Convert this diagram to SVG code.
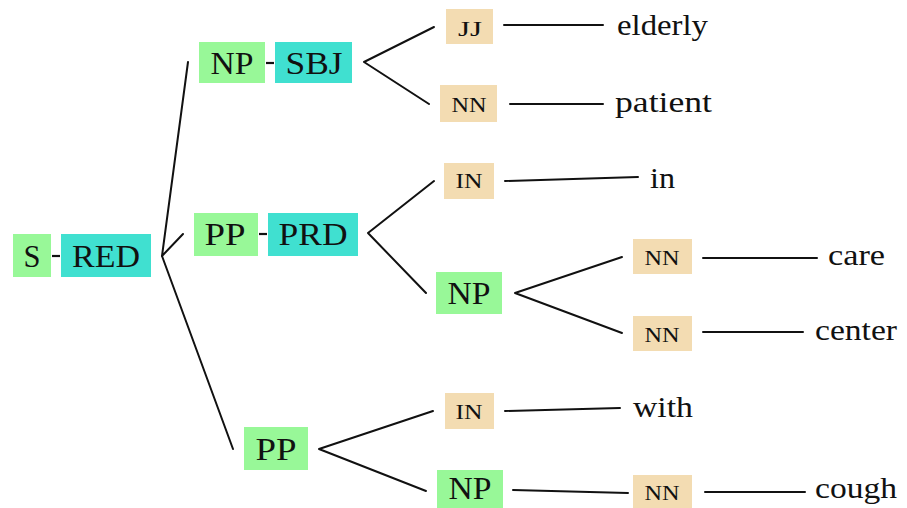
<svg xmlns="http://www.w3.org/2000/svg" width="907" height="508" viewBox="0 0 907 508">
  <style>
    .phr { fill: #98f898; }
    .fn { fill: #40e0d0; }
    .pos { fill: #f3dcb2; }
    text { font-family: 'Liberation Serif', 'Times New Roman', serif; fill: #111; }
    .big { font-size: 31px; text-anchor: middle; }
    .small { font-size: 20px; text-anchor: middle; }
    .word { font-size: 30px; }
    .edge { stroke: #111; stroke-width: 2; fill: none; stroke-linecap: round; stroke-linejoin: round; }
    .dash { stroke: #111; stroke-width: 2.2; }
  </style>

  <!-- tree edges -->
  <g id="connectors">
    <polyline class="edge" points="188,62 162,256 183,234"/>
    <line class="edge" x1="162" y1="256" x2="233" y2="449"/>
    <polyline class="edge" points="434,27 364,62 429,104"/>
    <polyline class="edge" points="434,181 368,233 426,293"/>
    <polyline class="edge" points="622,257 515,293 622,333"/>
    <polyline class="edge" points="433,411 319,449 426,491"/>
    <line class="edge" x1="504" y1="25" x2="603" y2="25"/>
    <line class="edge" x1="510" y1="104" x2="603" y2="104"/>
    <line class="edge" x1="505" y1="181" x2="638" y2="177"/>
    <line class="edge" x1="703" y1="258" x2="817" y2="258"/>
    <line class="edge" x1="703" y1="332" x2="803" y2="332"/>
    <line class="edge" x1="505" y1="411" x2="620" y2="408"/>
    <line class="edge" x1="513" y1="490" x2="628" y2="493"/>
    <line class="edge" x1="705" y1="492" x2="805" y2="492"/>
  </g>

  <!-- root: S-RED -->
  <g id="s-red">
    <rect class="phr" x="13" y="234" width="38" height="43"/>
    <text class="big" x="32" y="267" font-family="Liberation Serif" textLength="17" lengthAdjust="spacingAndGlyphs">S</text>
    <line class="dash" x1="52" y1="256" x2="60" y2="256"/>
    <rect class="fn" x="61" y="234" width="90" height="43"/>
    <text class="big" x="106" y="267" font-family="Liberation Serif" textLength="68" lengthAdjust="spacingAndGlyphs">RED</text>
  </g>

  <!-- subject NP -->
  <g id="np-sbj">
    <rect class="phr" x="199" y="42" width="66" height="41"/>
    <text class="big" x="232" y="74" textLength="43" lengthAdjust="spacingAndGlyphs">NP</text>
    <line class="dash" x1="266" y1="63" x2="274" y2="63"/>
    <rect class="fn" x="275" y="42" width="77" height="41"/>
    <text class="big" x="314" y="74" textLength="57" lengthAdjust="spacingAndGlyphs">SBJ</text>
  </g>

  <!-- predicate PP -->
  <g id="pp-prd">
    <rect class="phr" x="194" y="213" width="64" height="43"/>
    <text class="big" x="225" y="245" textLength="41" lengthAdjust="spacingAndGlyphs">PP</text>
    <line class="dash" x1="259" y1="234" x2="267" y2="234"/>
    <rect class="fn" x="268" y="213" width="90" height="43"/>
    <text class="big" x="313" y="245" textLength="69" lengthAdjust="spacingAndGlyphs">PRD</text>
  </g>

  <!-- lower PP -->
  <g id="pp">
    <rect class="phr" x="244" y="427" width="64" height="43"/>
    <text class="big" x="276" y="460" textLength="41" lengthAdjust="spacingAndGlyphs">PP</text>
  </g>

  <!-- POS tags -->
  <g id="jj">
    <rect class="pos" x="446" y="9" width="47" height="35"/>
    <text class="small" x="470" y="36" textLength="24" lengthAdjust="spacingAndGlyphs">JJ</text>
  </g>
  <g id="nn-patient">
    <rect class="pos" x="440" y="85" width="57" height="37"/>
    <text class="small" x="469" y="112" textLength="35" lengthAdjust="spacingAndGlyphs">NN</text>
  </g>
  <g id="in-1">
    <rect class="pos" x="444" y="163" width="50" height="36"/>
    <text class="small" x="469" y="188" textLength="27" lengthAdjust="spacingAndGlyphs">IN</text>
  </g>
  <g id="np-mid">
    <rect class="phr" x="436" y="272" width="66" height="42"/>
    <text class="big" x="469" y="304" textLength="43" lengthAdjust="spacingAndGlyphs">NP</text>
  </g>
  <g id="nn-care">
    <rect class="pos" x="633" y="239" width="59" height="35"/>
    <text class="small" x="662" y="265" textLength="35" lengthAdjust="spacingAndGlyphs">NN</text>
  </g>
  <g id="nn-center">
    <rect class="pos" x="633" y="316" width="59" height="35"/>
    <text class="small" x="662" y="342" textLength="35" lengthAdjust="spacingAndGlyphs">NN</text>
  </g>
  <g id="in-2">
    <rect class="pos" x="445" y="393" width="49" height="36"/>
    <text class="small" x="469" y="419" textLength="27" lengthAdjust="spacingAndGlyphs">IN</text>
  </g>
  <g id="np-low">
    <rect class="phr" x="437" y="470" width="66" height="38"/>
    <text class="big" x="470" y="499" textLength="43" lengthAdjust="spacingAndGlyphs">NP</text>
  </g>
  <g id="nn-cough">
    <rect class="pos" x="633" y="475" width="59" height="33"/>
    <text class="small" x="662" y="500" textLength="35" lengthAdjust="spacingAndGlyphs">NN</text>
  </g>

  <!-- words -->
  <g id="words">
    <text class="word" x="617" y="35" textLength="91" lengthAdjust="spacingAndGlyphs">elderly</text>
    <text class="word" x="615" y="112" textLength="97" lengthAdjust="spacingAndGlyphs">patient</text>
    <text class="word" x="650" y="188" textLength="25" lengthAdjust="spacingAndGlyphs">in</text>
    <text class="word" x="828" y="265" textLength="57" lengthAdjust="spacingAndGlyphs">care</text>
    <text class="word" x="815" y="340" textLength="82" lengthAdjust="spacingAndGlyphs">center</text>
    <text class="word" x="633" y="417" textLength="60" lengthAdjust="spacingAndGlyphs">with</text>
    <text class="word" x="815" y="498" textLength="82" lengthAdjust="spacingAndGlyphs">cough</text>
  </g>
</svg>
